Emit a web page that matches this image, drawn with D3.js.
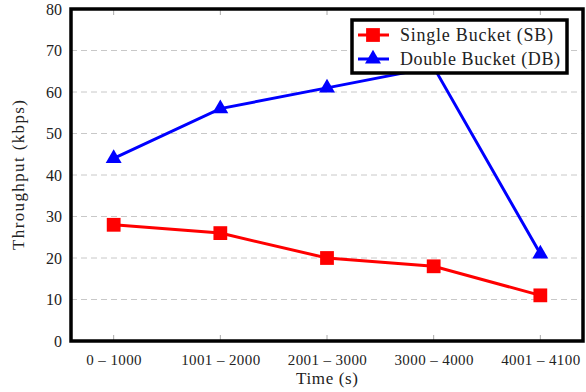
<!DOCTYPE html>
<html>
<head>
<meta charset="utf-8">
<script src="https://cdn.jsdelivr.net/npm/d3@7"></script>
<style>
  body { margin: 0; background: #fff; }
  svg text { font-family: "Liberation Serif", serif; fill: #222; }
</style>
</head>
<body>
<div id="chart"></div>
<script>
const categories = ["0 \u2013 1000", "1001 \u2013 2000", "2001 \u2013 3000", "3000 \u2013 4000", "4001 \u2013 4100"];
const singleBucket = [28, 26, 20, 18, 11];
const doubleBucket = [44, 56, 61, 66, 21];
const yTicks = [0, 10, 20, 30, 40, 50, 60, 70, 80];

const W = 586, H = 392;
const margin = { top: 9, right: 3, bottom: 51, left: 71 };
const width = W - margin.left - margin.right,
  height = H - margin.top - margin.bottom;
const serif = "'Liberation Serif', serif";

const svg = d3.select("#chart").append("svg")
  .attr("width", W)
  .attr("height", H);

const g = svg.append("g")
  .attr("transform", `translate(${margin.left},${margin.top})`);

// index based x scale, padded like pgfplots enlarge x limits
const x = d3.scaleLinear()
  .domain([-0.4, categories.length - 1 + 0.4])
  .range([0, width]);

const y = d3.scaleLinear()
  .domain([0, 80])
  .range([height, 0]);

// grid lines
g.append("g")
  .selectAll("line")
  .data(yTicks.filter(d => d > 0 && d < 80))
  .join("line")
  .attr("x1", 0)
  .attr("x2", width)
  .attr("y1", d => y(d))
  .attr("y2", d => y(d))
  .attr("stroke", "#c8c8c8")
  .attr("stroke-width", 1)
  .attr("stroke-dasharray", "6,4");

// inner tick marks top and bottom
categories.forEach((c, i) => {
  g.append("line")
    .attr("x1", x(i)).attr("x2", x(i))
    .attr("y1", height).attr("y2", height - 6)
    .attr("stroke", "#aaa");
  g.append("line")
    .attr("x1", x(i)).attr("x2", x(i))
    .attr("y1", 0).attr("y2", 6)
    .attr("stroke", "#aaa");
});

// axes labels
const xAxis = d3.axisBottom(x)
  .tickValues(d3.range(categories.length))
  .tickFormat(i => categories[i])
  .tickSize(0)
  .tickPadding(13);

g.append("g")
  .attr("transform", `translate(0,${height})`)
  .call(xAxis)
  .call(a => a.select(".domain").remove())
  .attr("font-family", serif)
  .selectAll("text")
  .style("font-size", "15px")
  .style("letter-spacing", "0.4px")
  .attr("fill", "#222");

const yAxis = d3.axisLeft(y)
  .tickValues(yTicks)
  .tickSize(0)
  .tickPadding(9);

g.append("g")
  .call(yAxis)
  .call(a => a.select(".domain").remove())
  .attr("font-family", serif)
  .selectAll("text")
  .style("font-size", "16px")
  .attr("fill", "#222");

// frame
g.append("rect")
  .attr("x", 0)
  .attr("y", 0)
  .attr("width", width)
  .attr("height", height)
  .attr("fill", "none")
  .attr("stroke", "#000")
  .attr("stroke-width", 3.5);

const series = [
  { name: "Single Bucket (SB)", values: singleBucket, color: "#ff0000", marker: d3.symbolSquare, size: 190 },
  { name: "Double Bucket (DB)", values: doubleBucket, color: "#0000ff", marker: d3.symbolTriangle, size: 110 }
];

const line = d3.line()
  .x((d, i) => x(i))
  .y(d => y(d));

series.forEach(s => {
  g.append("path")
    .datum(s.values)
    .attr("fill", "none")
    .attr("stroke", s.color)
    .attr("stroke-width", 3)
    .attr("d", line);

  g.append("g")
    .selectAll("path")
    .data(s.values)
    .join("path")
    .attr("transform", (d, i) => `translate(${x(i)},${y(d)})`)
    .attr("d", d3.symbol().type(s.marker).size(s.size))
    .attr("fill", s.color);
});

// legend
const legend = svg.append("g")
  .attr("transform", "translate(352,20)");

legend.append("rect")
  .attr("width", 215)
  .attr("height", 53)
  .attr("fill", "#fff")
  .attr("stroke", "#000")
  .attr("stroke-width", 3.5);

series.forEach((s, i) => {
  const row = legend.append("g")
    .attr("transform", `translate(0,${15 + i * 24})`);
  row.append("line")
    .attr("x1", 6).attr("x2", 37)
    .attr("y1", 0).attr("y2", 0)
    .attr("stroke", s.color)
    .attr("stroke-width", 3);
  row.append("path")
    .attr("transform", "translate(21,0)")
    .attr("d", d3.symbol().type(s.marker).size(s.size))
    .attr("fill", s.color);
  row.append("text")
    .attr("x", 48)
    .attr("y", 0)
    .attr("dy", "0.35em")
    .attr("textLength", i === 0 ? 153 : 160)
    .style("font-size", "18px")
    .text(s.name);
});

// axis titles
svg.append("text")
  .attr("transform", `translate(24,${margin.top + height / 2}) rotate(-90)`)
  .attr("text-anchor", "middle")
  .attr("textLength", 150)
  .style("font-size", "17px")
  .text("Throughput (kbps)");

svg.append("text")
  .attr("x", margin.left + width / 2)
  .attr("y", 384)
  .attr("text-anchor", "middle")
  .attr("textLength", 62)
  .style("font-size", "17px")
  .text("Time (s)");
</script>
</body>
</html>
